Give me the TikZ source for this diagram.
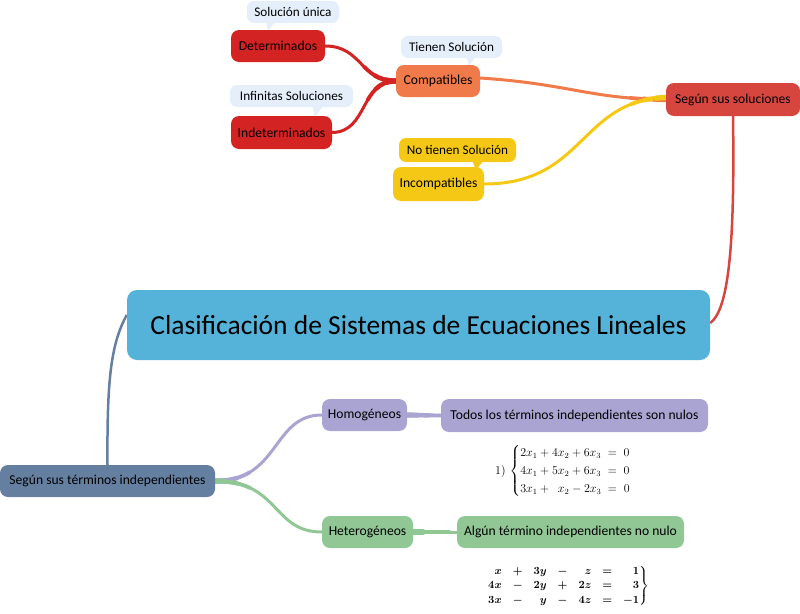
\documentclass[tikz,border=0pt]{standalone}
\usepackage{amsmath}
\usepackage{fontspec}
\setmainfont{Carlito}
\usetikzlibrary{backgrounds}
\definecolor{cred}{HTML}{D42323}
\definecolor{corange}{HTML}{F07A4A}
\definecolor{cyellow}{HTML}{F6C816}
\definecolor{csol}{HTML}{D6463F}
\definecolor{cblue}{HTML}{55B3DA}
\definecolor{cslate}{HTML}{647FA0}
\definecolor{clav}{HTML}{AAA4D2}
\definecolor{cgreen}{HTML}{90C795}
\definecolor{cbubble}{HTML}{E4EFFB}
\tikzset{
  box/.style={rounded corners=8pt, inner sep=0pt, text=black, font=\fontsize{13.6}{15}\selectfont},
  bubble/.style={box, fill=cbubble, rounded corners=7pt, font=\fontsize{13.2}{15}\selectfont},
  branch/.style={line width=3pt, line cap=round},
  taperA/.style={line width=5.2pt, dash pattern=on 10pt off 2000pt},
  taperB/.style={line width=4.5pt, dash pattern=on 22pt off 2000pt},
  taperC/.style={line width=3.8pt, dash pattern=on 36pt off 2000pt},
}
\begin{document}
\begin{tikzpicture}[x=1pt,y=-1pt]
\useasboundingbox (0,0) rectangle (800,613);
% nodes
\node[box, fill=cblue, minimum width=583pt, minimum height=70pt, rounded corners=10pt, font=\fontsize{27.5}{30}\selectfont] (main) at (418.5,325) {Clasificación de Sistemas de Ecuaciones Lineales};
\node[box, fill=csol, minimum width=134pt, minimum height=33pt] (sol) at (733,99.5) {Según sus soluciones};
\node[box, fill=corange, minimum width=84pt, minimum height=32pt] (comp) at (438,81) {Compatibles};
\node[box, fill=cyellow, minimum width=91pt, minimum height=34pt] (incomp) at (438.5,184) {Incompatibles};
\node[box, fill=cred, minimum width=94pt, minimum height=32pt] (det) at (278,46) {Determinados};
\node[box, fill=cred, minimum width=101pt, minimum height=33pt] (indet) at (281.5,132.5) {Indeterminados};
\node[bubble, minimum width=92pt, minimum height=22pt] (bu1) at (293,12) {Solución única};
\node[bubble, minimum width=101pt, minimum height=22pt] (bu2) at (451.5,47) {Tienen Solución};
\node[bubble, minimum width=123pt, minimum height=22pt] (bu3) at (291.5,96) {Infinitas Soluciones};
\node[bubble, fill=cyellow, minimum width=117pt, minimum height=24pt] (bu4) at (457.5,150) {No tienen Solución};
\node[box, fill=cslate, minimum width=215pt, minimum height=32pt] (term) at (107.5,481) {Según sus términos independientes};
\node[box, fill=clav, minimum width=85pt, minimum height=32pt] (homo) at (364.5,415) {Homogéneos};
\node[box, fill=clav, minimum width=267pt, minimum height=33pt] (todos) at (574.5,415.5) {Todos los términos independientes son nulos};
\node[box, fill=cgreen, minimum width=91pt, minimum height=32pt] (hetero) at (367.5,532) {Heterogéneos};
\node[box, fill=cgreen, minimum width=227pt, minimum height=32pt] (algun) at (570.5,532) {Algún término independientes no nulo};
\node[inner sep=0pt, font=\fontsize{12}{14.4}\selectfont] (eq1) at (563,471) {$1)\,\left\{\renewcommand{\arraystretch}{1.25}\begin{array}{@{}l@{}}2x_1+4x_2+6x_3\;=\;0\\4x_1+5x_2+6x_3\;=\;0\\3x_1+\phantom{4}x_2-2x_3\;=\;0\end{array}\right.$};
\node[inner sep=0pt, font=\fontsize{11}{13}\selectfont] (eq2) at (568,586) {$\boldsymbol{\left.\renewcommand{\arraystretch}{1.1}\begin{array}{@{}r@{\quad}c@{\quad}r@{\quad}c@{\quad}r@{\quad}c@{\quad}r@{}}x&+&3y&-&z&=&1\\4x&-&2y&+&2z&=&3\\3x&-&y&-&4z&=&-1\end{array}\right\}}$};
\begin{scope}[on background layer]
  % bubble tails
  \fill[cbubble] (266,21) -- (276,21) -- (268,31) -- cycle;
  \fill[cbubble] (466,56) -- (476,56) -- (469,66) -- cycle;
  \fill[cbubble] (312,105) -- (324,105) -- (315,117) -- cycle;
  \fill[cyellow] (472,160) -- (484,160) -- (476,170) -- cycle;
  % connectors
  \draw[line width=2.5pt, csol] ([yshift=2pt]main.east) .. controls (728,310) and (735,250) .. (sol.south);
  \draw[line width=2.5pt, cslate] ([yshift=10pt]main.west) .. controls (110,345) and (107,385) .. (term.north);
  \foreach \s in {branch, taperC, taperB, taperA} {
    \draw[branch, \s, corange] (sol.west) .. controls (590,99) and (570,84) .. ([yshift=3pt]comp.east);
    \draw[branch, \s, cyellow] ([yshift=2pt]sol.west) .. controls (580,100) and (585,184) .. (incomp.east);
    \draw[branch, \s, cred] (comp.west) .. controls (360,81) and (362,46) .. (det.east);
    \draw[branch, \s, cred] (comp.west) .. controls (360,81) and (368,132) .. (indet.east);
    \draw[branch, \s, clav] (term.east) .. controls (280,481) and (272,415) .. (homo.west);
    \draw[branch, \s, cgreen] (term.east) .. controls (280,481) and (272,532) .. (hetero.west);
    \draw[branch, \s, clav] (homo.east) -- (todos.west);
    \draw[branch, \s, cgreen] (hetero.east) -- (algun.west);
  }
\end{scope}
\end{tikzpicture}
\end{document}
